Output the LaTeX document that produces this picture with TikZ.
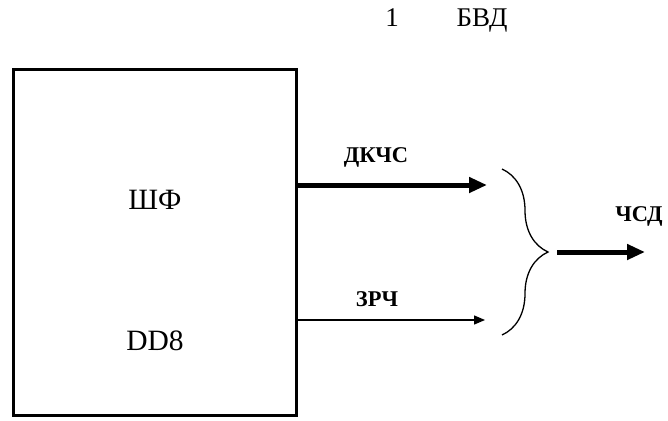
\documentclass[tikz,border=0pt]{standalone}
\usepackage{fontspec}
\setmainfont{Liberation Serif}
\usetikzlibrary{arrows.meta,positioning,calc,decorations.pathreplacing}

\begin{document}
\begin{tikzpicture}[
    x=1pt, y=-1pt,
    blockNode/.style={rectangle, draw, line width=2.6pt, minimum width=283pt, minimum height=346pt, inner sep=0pt},
    textNode/.style={anchor=base, inner sep=0pt, font=\fontsize{29.5}{32}\selectfont},
    titleNode/.style={anchor=base, inner sep=0pt, font=\fontsize{27}{29}\selectfont},
    sigNode/.style={anchor=base, inner sep=0pt, font=\fontsize{22.5}{25}\selectfont\bfseries},
    busArrow/.style={-{Triangle[length=18pt,width=15pt]}, line width=5pt},
    lineArrow/.style={-{Triangle[length=11pt,width=9pt]}, line width=1.3pt},
    braceLine/.style={decorate, decoration={brace, amplitude=46pt}, line width=1.3pt}
]
\useasboundingbox (0,0) rectangle (668,420);

% block and its captions
\node[blockNode] (blk) at (155,242.5) {};
\node[textNode] (shf) at (155,209) {ШФ};
\node[textNode] (dd) at (155,350) {DD8};

% header
\node[titleNode] (num) at (392,27) {1};
\node[titleNode] (bvd) at (482,27) {БВД};

% brace collecting both signals
\coordinate (brTop) at (502,169);
\coordinate (brBot) at (502,335);
\coordinate (brTip) at (549,252);
\draw[braceLine] (brTop) -- (brBot);

% signal ends
\coordinate (dkEnd) at (487,185);
\coordinate (zrEnd) at (485,320);
\coordinate (csOut) at (645,252);

\draw[busArrow] (blk.east |- dkEnd) -- (dkEnd);
\draw[lineArrow] (blk.east |- zrEnd) -- (zrEnd);
\draw[busArrow] ([xshift=8pt]brTip) -- (csOut);

% signal names
\node[sigNode] (dkcs) at (376,162) {ДКЧС};
\node[sigNode] (zrch) at (377,306) {ЗРЧ};
\node[sigNode] (chsd) at (639,221) {ЧСД};

\end{tikzpicture}
\end{document}
